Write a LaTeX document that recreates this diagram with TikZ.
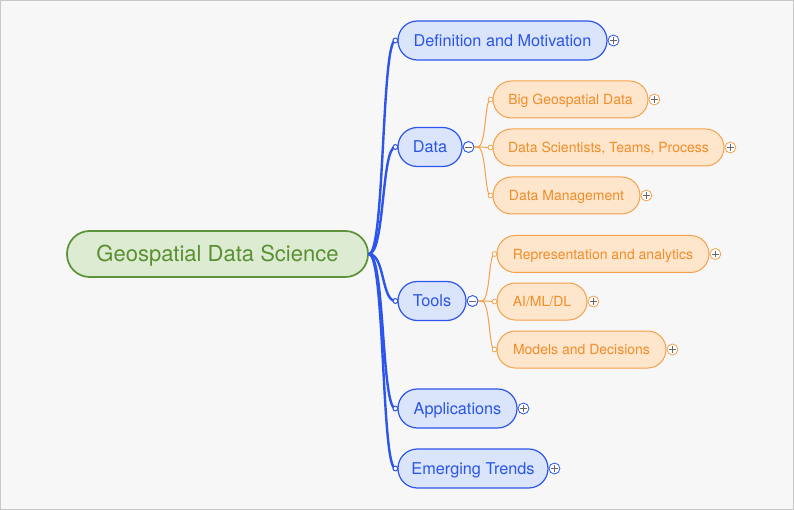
\documentclass[tikz,border=0pt]{standalone}
\usepackage{fontspec}
\setmainfont{TeX Gyre Heros}
\definecolor{bgc}{HTML}{F7F7F7}
\definecolor{frame}{HTML}{C8C8C8}
\definecolor{bstroke}{HTML}{2B55EC}
\definecolor{bfill}{HTML}{DAE4FB}
\definecolor{btext}{HTML}{2A55E6}
\definecolor{ostroke}{HTML}{F5A04A}
\definecolor{ofill}{HTML}{FDE6CC}
\definecolor{otext}{HTML}{F28C28}
\definecolor{gstroke}{HTML}{5E9239}
\definecolor{gfill}{HTML}{DCEBD2}
\definecolor{gtext}{HTML}{5A9032}
\definecolor{pmgray}{HTML}{666666}
\tikzset{
  rootbox/.style={text height=11.9pt, text depth=0pt, draw=gstroke, fill=gfill, text=gtext, line width=1.3pt, rounded corners=17pt,
    minimum height=34.5pt, inner sep=0pt, font=\fontsize{16.5}{19}\selectfont},
  bluebox/.style={text height=8.8pt, text depth=0pt, draw=bstroke, fill=bfill, text=btext, line width=0.9pt, rounded corners=14.5pt,
    minimum height=29.25pt, inner sep=0pt, font=\fontsize{12.2}{14}\selectfont},
  orangebox/.style={text height=7.6pt, text depth=0pt, draw=ostroke, fill=ofill, text=otext, line width=0.75pt, rounded corners=13.8pt,
    minimum height=27.75pt, inner sep=0pt, font=\fontsize{10.5}{12.5}\selectfont},
  bline/.style={draw=bstroke, line width=1.8pt},
  oline/.style={draw=ostroke, line width=0.75pt},
  bdot/.style={circle, draw=bstroke, fill=white, line width=0.8pt, minimum size=3.6pt, inner sep=0pt},
  odot/.style={circle, draw=ostroke, fill=white, line width=0.6pt, minimum size=3.6pt, inner sep=0pt},
  pmplus/.style={circle, draw=#1, fill=white, line width=0.6pt, minimum size=8.2pt, inner sep=0pt, anchor=west,
    path picture={\draw[line width=0.6pt, pmgray]
      ([xshift=-2.4pt]path picture bounding box.center) -- ([xshift=2.4pt]path picture bounding box.center)
      ([yshift=-2.4pt]path picture bounding box.center) -- ([yshift=2.4pt]path picture bounding box.center);}},
  pmminus/.style={circle, draw=#1, fill=white, line width=0.7pt, minimum size=8.2pt, inner sep=0pt, anchor=west,
    path picture={\draw[line width=0.6pt, pmgray]
      ([xshift=-2.4pt]path picture bounding box.center) -- ([xshift=2.4pt]path picture bounding box.center);}},
}
\begin{document}
\begin{tikzpicture}[x=0.75pt, y=-0.75pt]
\path[fill=bgc, draw=frame, line width=0.75pt] (0.5,0.5) rectangle (793.5,509.5);
\useasboundingbox (0,0) rectangle (794,510);

% root
\node[rootbox, minimum width=225.75pt] (root) at (217.5,254) {Geospatial Data Science};

% first level
\node[bluebox, minimum width=156.75pt] (def) at (502.5,40.5) {Definition and Motivation};
\node[bluebox, minimum width=48pt] (data) at (430,147) {Data};
\node[bluebox, minimum width=51pt] (tools) at (432,301) {Tools};
\node[bluebox, minimum width=89.25pt] (apps) at (457.5,408.5) {Applications};
\node[bluebox, minimum width=112.5pt] (emer) at (473,468.5) {Emerging Trends};

% second level
\node[orangebox, minimum width=116.25pt] (big) at (570.5,99.5) {Big Geospatial Data};
\node[orangebox, minimum width=173.25pt] (sci) at (608.5,147.5) {Data Scientists, Teams, Process};
\node[orangebox, minimum width=110.25pt] (mgmt) at (566.5,195.5) {Data Management};
\node[orangebox, minimum width=159pt] (rep) at (603,254) {Representation and analytics};
\node[orangebox, minimum width=67.5pt] (ai) at (542,301.5) {AI/ML/DL};
\node[orangebox, minimum width=126.75pt] (mod) at (581.5,349.5) {Models and Decisions};

% blue connectors
\foreach \n in {def,data,tools,apps,emer}{
  \coordinate (d\n) at ([xshift=-1.5pt]\n.west);
  \draw[bline] (root.east) .. controls +(16,0) and +(-14,0) .. (d\n);
}
% minus markers
\node[pmminus=bstroke] (mdata) at (data.east) {};
\node[pmminus=bstroke] (mtools) at (tools.east) {};
% orange connectors
\foreach \n/\m in {big/mdata,sci/mdata,mgmt/mdata,rep/mtools,ai/mtools,mod/mtools}{
  \coordinate (d\n) at ([xshift=-1.5pt]\n.west);
  \draw[oline] (\m.east) -- ++(3,0) .. controls +(9,0) and +(-6,0) .. (d\n);
}
\foreach \n in {def,data,tools,apps,emer}{\node[bdot] at (d\n) {};}
\foreach \n in {big,sci,mgmt,rep,ai,mod}{\node[odot] at (d\n) {};}

% plus markers
\foreach \n in {def,apps,emer}{\node[pmplus=bstroke] (p\n) at (\n.east) {};}
\foreach \n in {big,sci,mgmt,rep,ai,mod}{\node[pmplus=ostroke] (p\n) at (\n.east) {};}
\end{tikzpicture}
\end{document}
